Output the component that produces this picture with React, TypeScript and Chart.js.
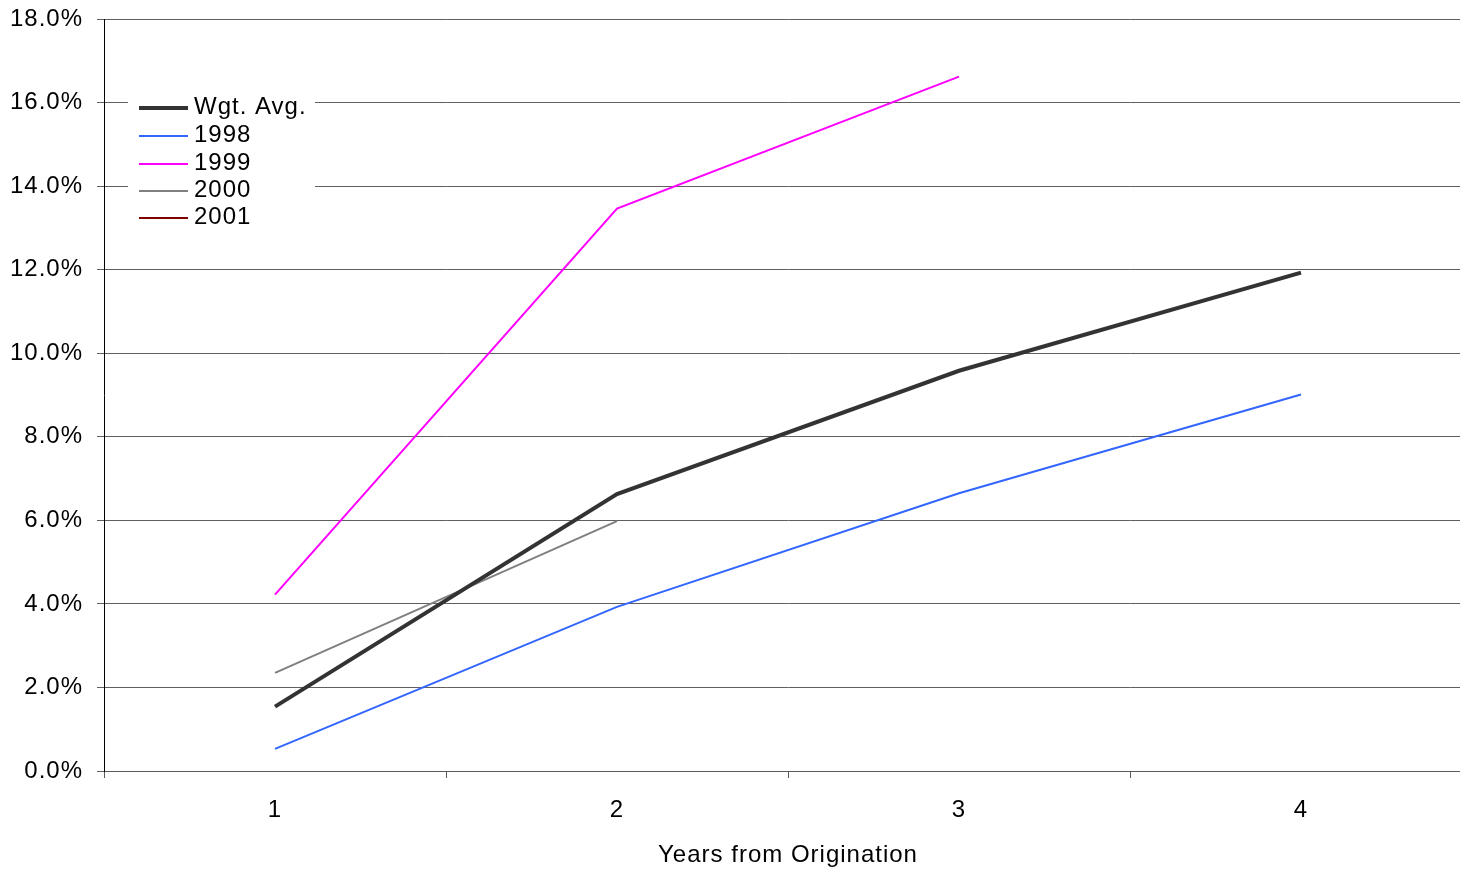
import React, { useEffect, useRef } from "react";
import { Chart, registerables } from "chart.js";

Chart.register(...registerables);

const categories = ["1", "2", "3", "4"];
const wgtAvg = [1.54, 6.63, 9.58, 11.93];
const s1998 = [0.53, 3.93, 6.65, 9.01];
const s1999 = [4.22, 13.46, 16.62, null];
const s2000 = [2.35, 5.98, null, null];
const s2001: (number | null)[] = [null, null, null, null];
const yTicks = [0, 2, 4, 6, 8, 10, 12, 14, 16, 18];

const FONT = "'Liberation Sans', Arial, sans-serif";
const FSIZE = 24;

const spacingPlugin = {
  id: "letterSpacing",
  beforeDraw(chart: any) {
    (chart.ctx as any).letterSpacing = "1px";
  },
};

const legendPlugin = {
  id: "insideLegend",
  afterDraw(chart: any) {
    const ctx = chart.ctx;
    ctx.save();
    ctx.fillStyle = "#ffffff";
    ctx.fillRect(128, 90, 187, 142);
    const x0 = 139;
    const x1 = 188;
    const rows = [108, 136, 164, 191, 218];
    chart.data.datasets.forEach((ds: any, i: number) => {
      const y = rows[i];
      ctx.strokeStyle = ds.borderColor;
      ctx.lineWidth = ds.borderWidth;
      ctx.lineCap = "butt";
      ctx.beginPath();
      ctx.moveTo(x0, y);
      ctx.lineTo(x1, y);
      ctx.stroke();
      ctx.fillStyle = "#000000";
      ctx.font = `${FSIZE}px ${FONT}`;
      (ctx as any).letterSpacing = "1px";
      ctx.textBaseline = "middle";
      ctx.textAlign = "left";
      ctx.fillText(ds.label, 194, y - 1);
    });
    ctx.restore();
  },
};

export default function App() {
  const ref = useRef<HTMLCanvasElement>(null);
  useEffect(() => {
    if (!ref.current) return;
    const chart = new Chart(ref.current, {
      type: "line",
      data: {
        labels: categories,
        datasets: [
          { label: "Wgt. Avg.", data: wgtAvg, borderColor: "#333333", borderWidth: 4, pointRadius: 0, tension: 0 },
          { label: "1998", data: s1998, borderColor: "#3366ff", borderWidth: 2, pointRadius: 0, tension: 0 },
          { label: "1999", data: s1999, borderColor: "#ff00ff", borderWidth: 2, pointRadius: 0, tension: 0 },
          { label: "2000", data: s2000, borderColor: "#808080", borderWidth: 2, pointRadius: 0, tension: 0 },
          { label: "2001", data: s2001, borderColor: "#800000", borderWidth: 2, pointRadius: 0, tension: 0 },
        ],
      },
      options: {
        responsive: false,
        animation: false,
        layout: { padding: { top: 19, right: 2, left: 0, bottom: 0 } },
        plugins: {
          legend: { display: false },
          tooltip: { enabled: false },
        },
        scales: {
          x: {
            type: "category",
            offset: true,
            afterFit(scale: any) {
              scale.height = 98;
              scale.paddingLeft = 0;
              scale.paddingRight = 0;
            },
            grid: {
              offset: true,
              drawOnChartArea: false,
              drawTicks: true,
              tickLength: 7,
              color: "#5a5a5a",
            },
            border: { color: "#5a5a5a", width: 1 },
            ticks: {
              color: "#000000",
              font: { family: FONT, size: FSIZE },
              padding: 18,
              maxRotation: 0,
            },
            title: {
              display: true,
              text: "Years from Origination",
              color: "#000000",
              font: { family: FONT, size: FSIZE },
              padding: { top: 0, bottom: -1 },
            },
          },
          y: {
            min: 0,
            max: 18,
            afterFit(scale: any) {
              scale.width = 104;
              scale.paddingTop = 0;
              scale.paddingBottom = 0;
            },
            afterBuildTicks(scale: any) {
              scale.ticks = yTicks.map((v) => ({ value: v }));
            },
            grid: {
              color: "#5f5f5f",
              lineWidth: 1,
              tickLength: 7,
            },
            border: { color: "#000000", width: 1 },
            ticks: {
              color: "#000000",
              font: { family: FONT, size: FSIZE },
              padding: 14,
              callback: (v: any) => Number(v).toFixed(1) + "%",
            },
          },
        },
      },
      plugins: [spacingPlugin, legendPlugin],
    });
    return () => chart.destroy();
  }, []);

  return (
    <div
      style={{
        position: "fixed",
        left: 0,
        top: 0,
        width: 1460,
        height: 869,
        overflow: "hidden",
        background: "#ffffff",
      }}
    >
      <canvas ref={ref} width={1474} height={869} style={{ display: "block" }} />
    </div>
  );
}
